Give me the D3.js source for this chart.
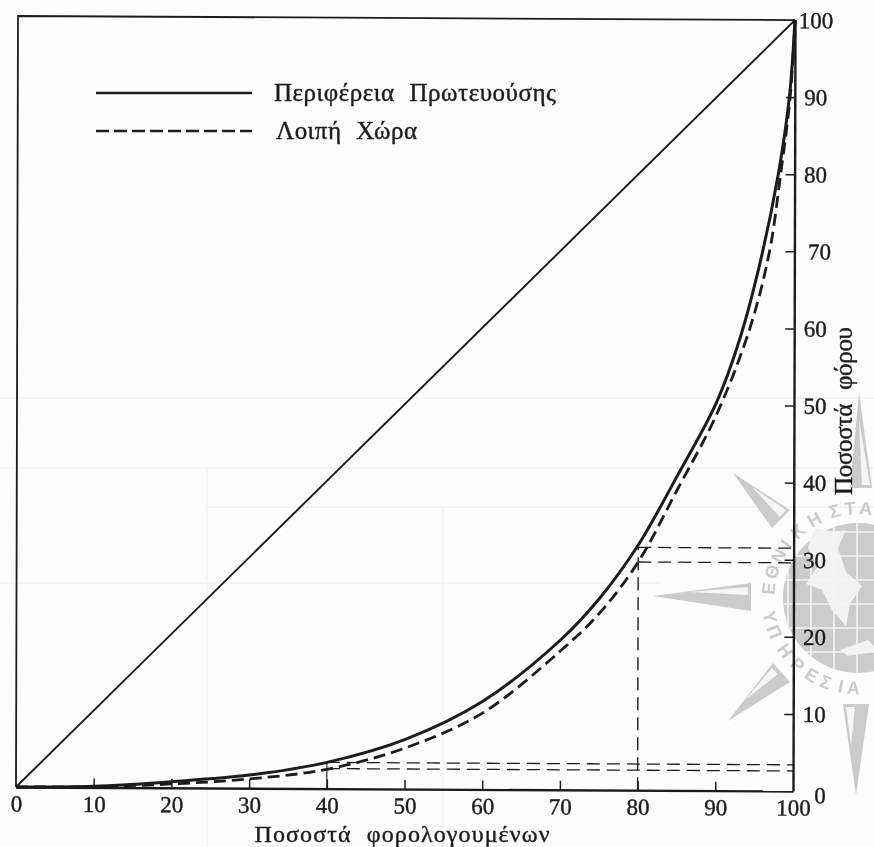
<!DOCTYPE html>
<html lang="el">
<head>
<meta charset="utf-8">
<title>Καμπύλες Lorenz</title>
<script src="https://cdn.jsdelivr.net/npm/d3@7/dist/d3.min.js"></script>
<style>
html,body{margin:0;padding:0;background:#fdfdfd;overflow:hidden}
svg{display:block;filter:blur(.45px)}
text{font-family:"Liberation Serif",serif;fill:#1c1c1c;stroke:#1c1c1c;stroke-width:.4px}
</style>
</head>
<body>
<svg id="c" width="874" height="847"></svg>
<script>
// ---- data ----
const capitalX = [0, 10, 20, 30, 40, 50, 60, 70, 75, 80, 85, 90, 93, 95.7, 97.9, 99.3, 100];
const capitalY = [0, 0.15, 0.8, 1.7, 3.4, 6.4, 11.4, 19.4, 24.8, 31.8, 40.8, 50.3, 58.6, 69, 80, 90, 100];
const restX = [0, 10, 20, 30, 40, 50, 60, 70, 75, 80, 85, 90, 94.3, 96.8, 98.2, 99.4, 100];
const restY = [0, 0.1, 0.5, 1.2, 2.5, 5.3, 9.9, 18, 22.9, 29.6, 39, 48.7, 60, 70, 80, 90, 100];
const equalityX = [0, 100];
const equalityY = [0, 100];
const xTicks = [0, 10, 20, 30, 40, 50, 60, 70, 80, 90, 100];
const yTicks = [0, 10, 20, 30, 40, 50, 60, 70, 80, 90, 100];
const seriesNames = ["Περιφέρεια Πρωτευούσης", "Λοιπή Χώρα"];
const xTitle = "Ποσοστά φορολογουμένων";
const yTitle = "Ποσοστά φόρου";
const refVertical = [[80, 31.5], [40, 3.4]];
const refHorizontal = [[80, 31.5], [80, 29.6], [40, 3.4], [40, 2.6]];

const svg = d3.select("#c");
const ink = "#1c1c1c";
const grey = "#cbcbcb";

// ---- scanned page background: faint table rules and the stamp ----
const page = svg.append("g");
const faintH = [[0, 874, 398], [0, 874, 468], [205, 874, 507], [0, 660, 583]];
const faintV = [[207, 468, 847], [443, 507, 847]];
page.selectAll(".fh").data(faintH).join("line")
  .attr("x1", d => d[0]).attr("x2", d => d[1]).attr("y1", d => d[2]).attr("y2", d => d[2])
  .attr("stroke", "#f0f0f0").attr("stroke-width", 1.5);
page.selectAll(".fv").data(faintV).join("line")
  .attr("x1", d => d[0]).attr("x2", d => d[0]).attr("y1", d => d[1]).attr("y2", d => d[2])
  .attr("stroke", "#f3f3f3").attr("stroke-width", 1.5);

const stampCx = 858, stampCy = 598, stampR = 75, ringR = 90;
svg.append("defs").append("clipPath").attr("id", "disc").append("circle")
  .attr("cx", stampCx).attr("cy", stampCy).attr("r", stampR);

const logo = page.append("g");
logo.append("circle").attr("cx", stampCx).attr("cy", stampCy).attr("r", stampR).attr("fill", grey);
const land = [[[815, 528], [834, 532], [846, 530], [838, 548], [846, 572], [862, 586], [850, 604], [846, 626], [832, 610], [822, 590], [806, 584], [818, 566], [808, 548]],
              [[840, 650], [868, 640], [874, 646], [874, 652], [848, 656]]];
land.forEach(p => logo.append("path").attr("d", d3.line()(p) + "Z").attr("fill", "#f2f2f2"));
const grid = logo.append("g").attr("clip-path", "url(#disc)");
d3.range(stampCx - 70, stampCx + 30, 23).forEach(x =>
  grid.append("line").attr("x1", x).attr("x2", x).attr("y1", stampCy - 80).attr("y2", stampCy + 80)
    .attr("stroke", "#f4f4f4").attr("stroke-width", 1.6));
d3.range(stampCy - 66, stampCy + 80, 24).forEach(y =>
  grid.append("line").attr("x1", stampCx - 80).attr("x2", stampCx + 30).attr("y1", y).attr("y2", y)
    .attr("stroke", "#f4f4f4").attr("stroke-width", 1.6));
const needles = [
  [[653, 596], [751, 583], [751, 611]],
  [[733, 473], [790, 510], [772, 528]],
  [[728, 721], [773, 663], [790, 682]],
  [[859, 392], [850, 488], [872, 488]],
  [[856, 795], [843, 704], [869, 704]]
];
const needleHollow = [
  [[690, 592], [748, 587], [748, 595]],
  [[752, 487], [786, 510], [780, 517]],
  [[745, 700], [772, 668], [778, 674]],
  [[859, 420], [862, 485], [870, 485]],
  [[851, 745], [846, 707], [855, 707]]
];
needles.forEach(p => logo.append("path").attr("d", d3.line()(p) + "Z").attr("fill", grey));
needleHollow.forEach(p => logo.append("path").attr("d", d3.line()(p) + "Z").attr("fill", "#f6f6f6"));

// stamp lettering, one letter at a time round the ring
const topLetters = "ΕΘΝΙΚΗΣΤΑ".split("");
const topAngles = [-84, -73, -62, -53, -42, -29, -15, -5, 5];
const botLetters = "ΥΠΗΡΕΣΙΑ".split("");
const botAngles = [-78, -68, -54, -42, -31, -21, -11, -3];
const rad = Math.PI / 180;
const stampLetter = (sel) => sel.attr("text-anchor", "middle").attr("dy", "0.35em")
  .style("font-family", '"Liberation Sans",sans-serif').style("font-weight", 700)
  .style("font-size", "18px").style("fill", grey).style("stroke", "none");
logo.selectAll(".t").data(topLetters).join("text").call(stampLetter)
  .attr("transform", (d, i) => `translate(${stampCx + ringR * Math.sin(topAngles[i] * rad)},${stampCy - ringR * Math.cos(topAngles[i] * rad)}) rotate(${topAngles[i]})`)
  .text(d => d);
logo.selectAll(".b").data(botLetters).join("text").call(stampLetter)
  .attr("transform", (d, i) => `translate(${stampCx + ringR * Math.sin(botAngles[i] * rad)},${stampCy + ringR * Math.cos(botAngles[i] * rad)}) rotate(${-botAngles[i]})`)
  .text(d => d);

// ---- the chart ----
const x = d3.scaleLinear().domain([0, 100]).range([16, 793]);
const y = d3.scaleLinear().domain([0, 100]).range([787, 16]);
// the printed page sits slightly askew on the scanner
const plot = svg.append("g")
  .attr("transform", "translate(16,787) matrix(1,0.0052,-0.0026,1,0,0) translate(-16,-787)");

const line = d3.line().x(d => x(d[0])).y(d => y(d[1]));
const curve = d3.line().x(d => x(d[0])).y(d => y(d[1])).curve(d3.curveCatmullRom.alpha(0.5));

// frame: left and top
plot.append("path").attr("d", line([[0, 0], [0, 100], [100, 100]]))
  .attr("fill", "none").attr("stroke", ink).attr("stroke-width", 1.8);

// axes
const xAxis = plot.append("g").attr("transform", `translate(0,${y(0)})`)
  .call(d3.axisBottom(x).tickValues(xTicks).tickFormat(d3.format("d")).tickSize(-9).tickSizeOuter(0).tickPadding(8));
const yAxis = plot.append("g").attr("transform", `translate(${x(100)},0)`)
  .call(d3.axisRight(y).tickValues(yTicks).tickFormat(d3.format("d")).tickSize(-9).tickSizeOuter(0).tickPadding(10));
[xAxis, yAxis].forEach(a => {
  a.selectAll("path.domain").attr("stroke", ink).attr("stroke-width", 2.4);
  a.selectAll(".tick line").attr("stroke", ink).attr("stroke-width", 1.5);
  a.selectAll("text").style("font-family", '"Liberation Serif",serif').style("font-size", "23px");
});
xAxis.selectAll("text").attr("dy", "0.72em");
yAxis.selectAll("text").attr("text-anchor", "middle").attr("x", 21)
  .attr("dx", d => d === 0 ? 6 : d === 70 ? 4 : 0)
  .attr("dy", d => d === 0 ? "0.5em" : "0.33em");
xAxis.selectAll(".tick").filter(d => d === 0 || d === 100).select("line").remove();
yAxis.selectAll(".tick").filter(d => d === 0 || d === 100).select("line").remove();

// reference dashes
plot.selectAll(".rv").data(refVertical).join("line")
  .attr("x1", d => x(d[0])).attr("x2", d => x(d[0])).attr("y1", y(0)).attr("y2", d => y(d[1]))
  .attr("stroke", ink).attr("stroke-width", d => d[0] === 80 ? 1.4 : 1.1)
  .attr("stroke-dasharray", d => d[0] === 80 ? "13 7" : null);
plot.selectAll(".rh").data(refHorizontal).join("line")
  .attr("x1", d => x(d[0])).attr("x2", x(100)).attr("y1", d => y(d[1])).attr("y2", d => y(d[1]))
  .attr("stroke", ink).attr("stroke-width", 1.3).attr("stroke-dasharray", "13 7");

// equality diagonal and the two curves
plot.append("path").attr("d", line(d3.zip(equalityX, equalityY)))
  .attr("fill", "none").attr("stroke", ink).attr("stroke-width", 1.9);
plot.append("path").attr("d", curve(d3.zip(restX, restY)))
  .attr("fill", "none").attr("stroke", ink).attr("stroke-width", 2.8).attr("stroke-dasharray", "12 6");
plot.append("path").attr("d", curve(d3.zip(capitalX, capitalY)))
  .attr("fill", "none").attr("stroke", ink).attr("stroke-width", 3);

// legend
const legend = svg.append("g");
legend.selectAll("line").data(seriesNames).join("line")
  .attr("x1", 96).attr("x2", 252).attr("y1", (d, i) => 93 + i * 38).attr("y2", (d, i) => 93 + i * 38)
  .attr("stroke", ink).attr("stroke-width", 2.6)
  .attr("stroke-dasharray", (d, i) => i ? "13 5" : null);
legend.selectAll("text").data(seriesNames).join("text")
  .attr("x", (d, i) => i ? 276 : 274).attr("y", (d, i) => 101 + i * 38)
  .attr("font-size", 25).style("word-spacing", "8px")
  .attr("textLength", (d, i) => i ? 141 : 282).text(d => d);

// axis titles
svg.append("text").attr("x", 402).attr("y", 842).attr("text-anchor", "middle")
  .attr("font-size", 24).style("word-spacing", "8px").attr("textLength", 295).text(xTitle);
svg.append("text").attr("transform", "translate(852,411) rotate(-90)").attr("text-anchor", "middle")
  .attr("font-size", 25).style("word-spacing", "8px").attr("textLength", 168).text(yTitle);
</script>
</body>
</html>
